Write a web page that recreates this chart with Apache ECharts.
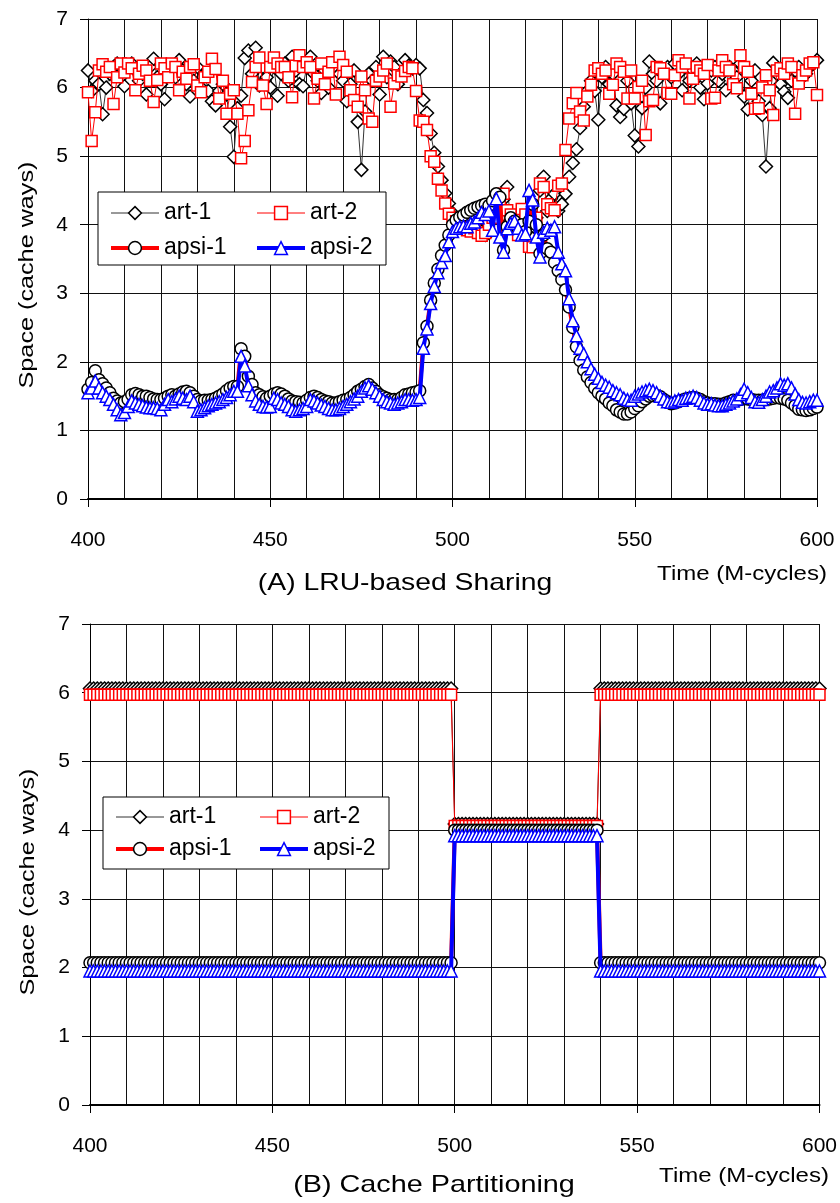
<!DOCTYPE html>
<html><head><meta charset="utf-8">
<script src="https://cdn.jsdelivr.net/npm/echarts@6/dist/echarts.min.js"></script>
<style>html,body{margin:0;padding:0;background:#fff}#c{width:840px;height:1203px}</style>
</head><body><div id="c"></div>
<script>
// ---- data ----
const T_START = 400;            // time of first sample (M-cycles), one sample per M-cycle
const xTickValues = [400, 450, 500, 550, 600];
const yTickValues = [0, 1, 2, 3, 4, 5, 6, 7];
const seriesNames = ['art-1', 'art-2', 'apsi-1', 'apsi-2'];
const panelTitles = ['(A) LRU-based Sharing', '(B) Cache Partitioning'];
const xAxisName = 'Time (M-cycles)';
const yAxisName = 'Space (cache ways)';

// (A) LRU-based sharing
const art1A = [
6.25,5.95,6.10,6.05,5.61,6.00,6.20,6.30,6.35,6.15,
6.02,6.30,6.35,6.25,6.10,6.20,5.90,6.30,6.42,6.15,
6.05,5.83,6.20,6.30,6.15,6.40,6.25,6.05,5.87,6.10,
6.30,6.00,6.20,5.95,5.80,5.74,5.95,6.05,5.90,5.43,
4.99,5.70,5.88,6.43,6.54,6.20,6.58,6.03,6.30,6.15,
6.00,6.30,5.88,6.20,6.35,6.10,6.45,6.25,6.05,6.02,
6.30,6.45,6.20,6.10,5.92,6.25,6.00,6.35,6.30,6.20,
6.10,5.80,6.05,6.25,5.50,4.80,5.65,6.20,6.10,6.30,
5.90,6.45,6.15,6.38,6.30,6.05,6.20,6.40,6.32,6.28,
6.33,6.28,5.82,5.63,5.33,5.05,4.85,4.65,4.46,4.31,
4.17,4.10,4.05,4.00,3.98,3.95,3.92,3.90,3.90,3.85,
3.88,4.15,4.20,4.10,4.37,4.55,4.05,3.98,4.10,4.05,
4.15,4.00,3.80,4.10,4.50,4.70,4.20,4.38,4.45,4.20,
4.30,4.45,4.70,4.90,5.10,5.41,5.72,5.95,6.10,5.95,
5.53,6.15,6.30,6.05,6.20,5.74,5.57,5.69,6.10,5.77,
5.30,5.14,5.70,6.00,6.38,6.20,6.10,5.77,6.25,6.30,
6.15,6.35,6.20,5.96,6.30,6.10,6.25,6.35,6.00,5.83,
6.06,6.25,6.30,6.10,6.20,5.96,6.30,6.25,6.15,6.35,
5.87,5.68,6.10,6.25,5.80,5.60,4.85,5.70,6.36,6.20,
6.05,5.94,5.85,6.10,6.25,6.30,6.15,6.20,6.30,6.35,
6.40];
const art2A = [
5.93,5.22,5.64,6.25,6.34,6.23,6.30,5.76,6.15,6.35,
6.22,6.35,6.28,5.96,6.20,6.32,6.25,6.10,5.79,6.11,
6.35,6.28,6.15,6.35,6.30,5.96,6.23,6.13,6.30,6.34,
6.03,5.93,6.15,6.23,6.42,6.27,5.84,6.10,5.62,5.91,
5.96,5.62,4.97,5.22,5.67,6.08,6.30,6.44,6.03,5.76,
6.30,6.44,6.35,6.30,6.30,6.15,5.86,6.32,6.47,6.30,
6.37,6.30,5.84,6.13,6.35,6.05,6.23,6.37,5.90,6.45,
6.33,6.23,5.96,5.82,5.72,6.16,5.96,5.55,5.50,6.10,
6.16,6.25,6.35,5.72,6.06,6.18,6.16,6.24,6.30,6.28,
5.95,5.52,5.50,5.38,5.00,4.92,4.67,4.50,4.31,4.16,
4.10,4.05,4.00,3.95,3.92,3.90,3.95,3.88,3.84,3.88,
4.00,4.10,4.20,4.30,4.45,4.21,4.15,3.95,3.85,4.23,
4.15,3.68,3.67,4.10,4.60,4.55,4.30,4.24,4.21,4.57,
4.60,5.09,5.55,5.77,5.92,5.65,5.52,5.87,6.04,6.25,
6.28,6.20,6.25,5.91,6.04,6.35,6.30,6.23,5.84,6.25,
5.84,6.01,6.10,5.31,5.80,5.82,6.30,6.28,6.20,5.92,
5.91,6.18,6.40,6.30,6.35,5.84,6.13,6.30,6.25,6.20,
6.33,5.84,5.85,6.25,6.40,6.30,6.25,6.05,5.99,6.47,
6.30,6.23,5.91,5.69,5.70,6.00,6.18,5.96,5.60,6.25,
6.28,6.20,6.35,6.30,5.62,6.06,6.18,6.25,6.35,6.37,
5.89];
const apsi1A = [
1.60,1.70,1.87,1.74,1.68,1.62,1.55,1.47,1.43,1.40,
1.42,1.45,1.52,1.54,1.52,1.50,1.50,1.48,1.46,1.45,
1.45,1.47,1.50,1.52,1.50,1.53,1.56,1.57,1.55,1.50,
1.45,1.43,1.44,1.44,1.45,1.47,1.50,1.53,1.58,1.62,
1.64,1.64,2.19,2.08,1.79,1.67,1.55,1.52,1.49,1.47,
1.50,1.53,1.55,1.53,1.50,1.46,1.43,1.42,1.41,1.40,
1.44,1.48,1.50,1.48,1.45,1.43,1.42,1.40,1.40,1.42,
1.44,1.45,1.48,1.52,1.57,1.60,1.64,1.67,1.62,1.57,
1.52,1.49,1.47,1.45,1.45,1.45,1.48,1.52,1.53,1.55,
1.56,1.58,2.28,2.52,2.90,3.15,3.35,3.55,3.70,3.85,
4.00,4.07,4.11,4.14,4.18,4.21,4.24,4.26,4.28,4.30,
4.28,4.35,4.45,4.40,3.63,3.97,4.10,4.05,3.95,4.00,
3.90,4.05,4.30,4.00,3.58,3.85,3.65,3.60,3.45,3.33,
3.20,3.05,2.80,2.50,2.22,2.02,1.88,1.78,1.70,1.62,
1.55,1.50,1.46,1.40,1.36,1.30,1.27,1.24,1.24,1.27,
1.32,1.36,1.42,1.46,1.50,1.51,1.51,1.49,1.45,1.42,
1.39,1.40,1.42,1.44,1.46,1.47,1.48,1.47,1.45,1.42,
1.40,1.39,1.39,1.38,1.38,1.40,1.42,1.44,1.44,1.45,
1.47,1.46,1.45,1.44,1.44,1.44,1.45,1.46,1.47,1.48,
1.47,1.46,1.44,1.40,1.36,1.31,1.30,1.29,1.30,1.32,
1.34];
const apsi2A = [
1.55,1.62,1.72,1.62,1.55,1.50,1.45,1.38,1.30,1.23,
1.26,1.35,1.43,1.40,1.38,1.36,1.34,1.33,1.33,1.32,
1.30,1.38,1.45,1.42,1.46,1.50,1.47,1.45,1.50,1.42,
1.28,1.30,1.33,1.36,1.38,1.40,1.42,1.45,1.48,1.52,
1.57,1.57,2.08,1.94,1.65,1.52,1.43,1.38,1.35,1.34,
1.35,1.47,1.45,1.40,1.38,1.35,1.30,1.28,1.30,1.32,
1.35,1.45,1.43,1.40,1.37,1.35,1.32,1.30,1.30,1.32,
1.35,1.38,1.42,1.46,1.50,1.57,1.62,1.65,1.60,1.55,
1.50,1.45,1.42,1.40,1.38,1.40,1.42,1.45,1.45,1.44,
1.45,1.48,2.20,2.48,2.85,3.10,3.30,3.45,3.55,3.75,
3.90,3.95,3.97,3.98,3.97,4.02,4.04,4.10,4.18,4.15,
4.20,3.92,4.38,3.82,3.60,3.94,4.02,4.05,3.95,3.85,
3.87,4.50,4.36,3.82,3.53,3.89,3.95,3.92,3.97,3.60,
3.43,3.33,2.92,2.60,2.38,2.20,2.12,2.00,1.90,1.82,
1.76,1.70,1.66,1.63,1.58,1.55,1.52,1.47,1.45,1.44,
1.50,1.53,1.56,1.58,1.60,1.58,1.55,1.50,1.46,1.42,
1.41,1.43,1.45,1.44,1.47,1.48,1.50,1.48,1.44,1.40,
1.38,1.39,1.37,1.36,1.36,1.38,1.40,1.43,1.46,1.52,
1.60,1.55,1.48,1.42,1.41,1.45,1.50,1.56,1.58,1.62,
1.68,1.66,1.68,1.62,1.53,1.45,1.41,1.40,1.42,1.44,
1.44];

// (B) Cache partitioning
const art1B = [
6.06,6.06,6.06,6.06,6.06,6.06,6.06,6.06,6.06,6.06,
6.06,6.06,6.06,6.06,6.06,6.06,6.06,6.06,6.06,6.06,
6.06,6.06,6.06,6.06,6.06,6.06,6.06,6.06,6.06,6.06,
6.06,6.06,6.06,6.06,6.06,6.06,6.06,6.06,6.06,6.06,
6.06,6.06,6.06,6.06,6.06,6.06,6.06,6.06,6.06,6.06,
6.06,6.06,6.06,6.06,6.06,6.06,6.06,6.06,6.06,6.06,
6.06,6.06,6.06,6.06,6.06,6.06,6.06,6.06,6.06,6.06,
6.06,6.06,6.06,6.06,6.06,6.06,6.06,6.06,6.06,6.06,
6.06,6.06,6.06,6.06,6.06,6.06,6.06,6.06,6.06,6.06,
6.06,6.06,6.06,6.06,6.06,6.06,6.06,6.06,6.06,6.06,
4.09,4.09,4.09,4.09,4.09,4.09,4.09,4.09,4.09,4.09,
4.09,4.09,4.09,4.09,4.09,4.09,4.09,4.09,4.09,4.09,
4.09,4.09,4.09,4.09,4.09,4.09,4.09,4.09,4.09,4.09,
4.09,4.09,4.09,4.09,4.09,4.09,4.09,4.09,4.09,4.09,
6.06,6.06,6.06,6.06,6.06,6.06,6.06,6.06,6.06,6.06,
6.06,6.06,6.06,6.06,6.06,6.06,6.06,6.06,6.06,6.06,
6.06,6.06,6.06,6.06,6.06,6.06,6.06,6.06,6.06,6.06,
6.06,6.06,6.06,6.06,6.06,6.06,6.06,6.06,6.06,6.06,
6.06,6.06,6.06,6.06,6.06,6.06,6.06,6.06,6.06,6.06,
6.06,6.06,6.06,6.06,6.06,6.06,6.06,6.06,6.06,6.06,
6.06];
const art2B = [
5.97,5.97,5.97,5.97,5.97,5.97,5.97,5.97,5.97,5.97,
5.97,5.97,5.97,5.97,5.97,5.97,5.97,5.97,5.97,5.97,
5.97,5.97,5.97,5.97,5.97,5.97,5.97,5.97,5.97,5.97,
5.97,5.97,5.97,5.97,5.97,5.97,5.97,5.97,5.97,5.97,
5.97,5.97,5.97,5.97,5.97,5.97,5.97,5.97,5.97,5.97,
5.97,5.97,5.97,5.97,5.97,5.97,5.97,5.97,5.97,5.97,
5.97,5.97,5.97,5.97,5.97,5.97,5.97,5.97,5.97,5.97,
5.97,5.97,5.97,5.97,5.97,5.97,5.97,5.97,5.97,5.97,
5.97,5.97,5.97,5.97,5.97,5.97,5.97,5.97,5.97,5.97,
5.97,5.97,5.97,5.97,5.97,5.97,5.97,5.97,5.97,5.97,
4.06,4.06,4.06,4.06,4.06,4.06,4.06,4.06,4.06,4.06,
4.06,4.06,4.06,4.06,4.06,4.06,4.06,4.06,4.06,4.06,
4.06,4.06,4.06,4.06,4.06,4.06,4.06,4.06,4.06,4.06,
4.06,4.06,4.06,4.06,4.06,4.06,4.06,4.06,4.06,4.06,
5.97,5.97,5.97,5.97,5.97,5.97,5.97,5.97,5.97,5.97,
5.97,5.97,5.97,5.97,5.97,5.97,5.97,5.97,5.97,5.97,
5.97,5.97,5.97,5.97,5.97,5.97,5.97,5.97,5.97,5.97,
5.97,5.97,5.97,5.97,5.97,5.97,5.97,5.97,5.97,5.97,
5.97,5.97,5.97,5.97,5.97,5.97,5.97,5.97,5.97,5.97,
5.97,5.97,5.97,5.97,5.97,5.97,5.97,5.97,5.97,5.97,
5.97];
const apsi1B = [
2.07,2.07,2.07,2.07,2.07,2.07,2.07,2.07,2.07,2.07,
2.07,2.07,2.07,2.07,2.07,2.07,2.07,2.07,2.07,2.07,
2.07,2.07,2.07,2.07,2.07,2.07,2.07,2.07,2.07,2.07,
2.07,2.07,2.07,2.07,2.07,2.07,2.07,2.07,2.07,2.07,
2.07,2.07,2.07,2.07,2.07,2.07,2.07,2.07,2.07,2.07,
2.07,2.07,2.07,2.07,2.07,2.07,2.07,2.07,2.07,2.07,
2.07,2.07,2.07,2.07,2.07,2.07,2.07,2.07,2.07,2.07,
2.07,2.07,2.07,2.07,2.07,2.07,2.07,2.07,2.07,2.07,
2.07,2.07,2.07,2.07,2.07,2.07,2.07,2.07,2.07,2.07,
2.07,2.07,2.07,2.07,2.07,2.07,2.07,2.07,2.07,2.07,
4.00,4.00,4.00,4.00,4.00,4.00,4.00,4.00,4.00,4.00,
4.00,4.00,4.00,4.00,4.00,4.00,4.00,4.00,4.00,4.00,
4.00,4.00,4.00,4.00,4.00,4.00,4.00,4.00,4.00,4.00,
4.00,4.00,4.00,4.00,4.00,4.00,4.00,4.00,4.00,4.00,
2.07,2.07,2.07,2.07,2.07,2.07,2.07,2.07,2.07,2.07,
2.07,2.07,2.07,2.07,2.07,2.07,2.07,2.07,2.07,2.07,
2.07,2.07,2.07,2.07,2.07,2.07,2.07,2.07,2.07,2.07,
2.07,2.07,2.07,2.07,2.07,2.07,2.07,2.07,2.07,2.07,
2.07,2.07,2.07,2.07,2.07,2.07,2.07,2.07,2.07,2.07,
2.07,2.07,2.07,2.07,2.07,2.07,2.07,2.07,2.07,2.07,
2.07];
const apsi2B = [
1.95,1.95,1.95,1.95,1.95,1.95,1.95,1.95,1.95,1.95,
1.95,1.95,1.95,1.95,1.95,1.95,1.95,1.95,1.95,1.95,
1.95,1.95,1.95,1.95,1.95,1.95,1.95,1.95,1.95,1.95,
1.95,1.95,1.95,1.95,1.95,1.95,1.95,1.95,1.95,1.95,
1.95,1.95,1.95,1.95,1.95,1.95,1.95,1.95,1.95,1.95,
1.95,1.95,1.95,1.95,1.95,1.95,1.95,1.95,1.95,1.95,
1.95,1.95,1.95,1.95,1.95,1.95,1.95,1.95,1.95,1.95,
1.95,1.95,1.95,1.95,1.95,1.95,1.95,1.95,1.95,1.95,
1.95,1.95,1.95,1.95,1.95,1.95,1.95,1.95,1.95,1.95,
1.95,1.95,1.95,1.95,1.95,1.95,1.95,1.95,1.95,1.95,
3.92,3.92,3.92,3.92,3.92,3.92,3.92,3.92,3.92,3.92,
3.92,3.92,3.92,3.92,3.92,3.92,3.92,3.92,3.92,3.92,
3.92,3.92,3.92,3.92,3.92,3.92,3.92,3.92,3.92,3.92,
3.92,3.92,3.92,3.92,3.92,3.92,3.92,3.92,3.92,3.92,
1.95,1.95,1.95,1.95,1.95,1.95,1.95,1.95,1.95,1.95,
1.95,1.95,1.95,1.95,1.95,1.95,1.95,1.95,1.95,1.95,
1.95,1.95,1.95,1.95,1.95,1.95,1.95,1.95,1.95,1.95,
1.95,1.95,1.95,1.95,1.95,1.95,1.95,1.95,1.95,1.95,
1.95,1.95,1.95,1.95,1.95,1.95,1.95,1.95,1.95,1.95,
1.95,1.95,1.95,1.95,1.95,1.95,1.95,1.95,1.95,1.95,
1.95];

// ---- chart ----
const FONT = '"Liberation Sans", Arial, Helvetica, sans-serif';
const STY = {
  'art-1':  {symbol: 'diamond',  size: 13, line: '#333333', width: 1, border: '#000000'},
  'art-2':  {symbol: 'rect',     size: 11, line: '#ff0000', width: 1, border: '#ff0000'},
  'apsi-1': {symbol: 'circle',   size: 12, line: '#ff0000', width: 4, border: '#000000'},
  'apsi-2': {symbol: 'triangle', size: 12, line: '#0000ff', width: 4, border: '#0000ff'}
};
const panelData = [[art1A, art2A, apsi1A, apsi2A], [art1B, art2B, apsi1B, apsi2B]];
const grids = [
  {left: 88, top: 19, width: 729, height: 480},
  {left: 90, top: 624, width: 730, height: 481}
];

function toPairs(arr) { return arr.map((v, i) => [T_START + i, v]); }

const xAxes = grids.map((g, gi) => ({
  gridIndex: gi, type: 'value', min: xTickValues[0], max: xTickValues[xTickValues.length - 1],
  interval: xTickValues[1] - xTickValues[0],
  axisLine: {show: true, onZero: false, lineStyle: {color: '#000', width: 2}},
  axisTick: {show: true, length: 8, lineStyle: {color: '#000', width: 1}},
  axisLabel: {fontSize: 21, color: '#000', fontFamily: FONT, margin: 31},
  splitLine: {show: true, lineStyle: {color: '#111', width: 1}},
  minorTick: {show: false, splitNumber: 5},
  minorSplitLine: {show: true, lineStyle: {color: '#111', width: 1}}
}));
const yAxes = grids.map((g, gi) => ({
  gridIndex: gi, type: 'value', min: yTickValues[0], max: yTickValues[yTickValues.length - 1], interval: 1,
  axisLine: {show: true, lineStyle: {color: '#000', width: 1}},
  axisTick: {show: true, length: 8, lineStyle: {color: '#000', width: 1}},
  axisLabel: {fontSize: 21, color: '#000', fontFamily: FONT, margin: 20},
  splitLine: {show: true, lineStyle: {color: '#111', width: 1}}
}));

const series = [];
panelData.forEach((arrs, gi) => {
  arrs.forEach((arr, si) => {
    const name = seriesNames[si];
    const s = STY[name];
    series.push({
      type: 'line', name: name, xAxisIndex: gi, yAxisIndex: gi,
      data: toPairs(arr),
      symbol: s.symbol, symbolSize: s.size, showAllSymbol: true,
      lineStyle: {color: s.line, width: s.width},
      itemStyle: {color: '#ffffff', borderColor: s.border, borderWidth: 1.5},
      emphasis: {disabled: true}, animation: false, z: 2 + si * 0.01
    });
  });
});

function legendItem(name) {
  const s = STY[name];
  return {
    name: name,
    lineStyle: {color: s.line, width: s.width},
    itemStyle: {color: '#ffffff', borderColor: s.border, borderWidth: 1.5}
  };
}
function legendCol(names, left, top, gap) {
  return {
    data: names.map(legendItem), orient: 'vertical', left: left, top: top, padding: 0,
    itemWidth: 48, itemHeight: 16, itemGap: gap, selectedMode: false,
    textStyle: {fontSize: 23, color: '#000', fontFamily: FONT, lineHeight: 24},
    z: 5
  };
}
const legends = [
  legendCol(['art-1', 'apsi-1'], 109, 201, 11),
  legendCol(['art-2', 'apsi-2'], 255, 201, 11),
  legendCol(['art-1', 'apsi-1'], 114, 805, 8),
  legendCol(['art-2', 'apsi-2'], 258, 805, 8)
];

function txt(text, x, y, size, sx, rot) {
  return {
    type: 'text', x: x, y: y, rotation: rot || 0, scaleX: sx, scaleY: 1, z: 6,
    style: {text: text, font: size + 'px ' + FONT, fill: '#000',
            align: 'center', verticalAlign: 'middle', textAlign: 'center', textVerticalAlign: 'middle'}
  };
}
const graphics = [
  {type: 'rect', shape: {x: 98, y: 192, width: 288, height: 73}, style: {fill: '#fff', stroke: '#000', lineWidth: 1}, z: 3},
  {type: 'rect', shape: {x: 103, y: 797, width: 286, height: 72}, style: {fill: '#fff', stroke: '#000', lineWidth: 1}, z: 3},
  txt(panelTitles[0], 405, 583, 24, 1.18),
  txt(panelTitles[1], 434, 1185, 24, 1.2),
  txt(xAxisName, 742, 574, 20, 1.2),
  txt(xAxisName, 744, 1176, 20, 1.2),
  txt(yAxisName, 27, 275, 21, 1.2, Math.PI / 2),
  txt(yAxisName, 28, 882, 21, 1.2, Math.PI / 2)
];

const chart = echarts.init(document.getElementById('c'), null, {renderer: 'canvas'});
chart.setOption({
  backgroundColor: '#fff', animation: false,
  grid: grids, xAxis: xAxes, yAxis: yAxes, series: series,
  legend: legends, graphic: graphics
});
</script></body></html>
